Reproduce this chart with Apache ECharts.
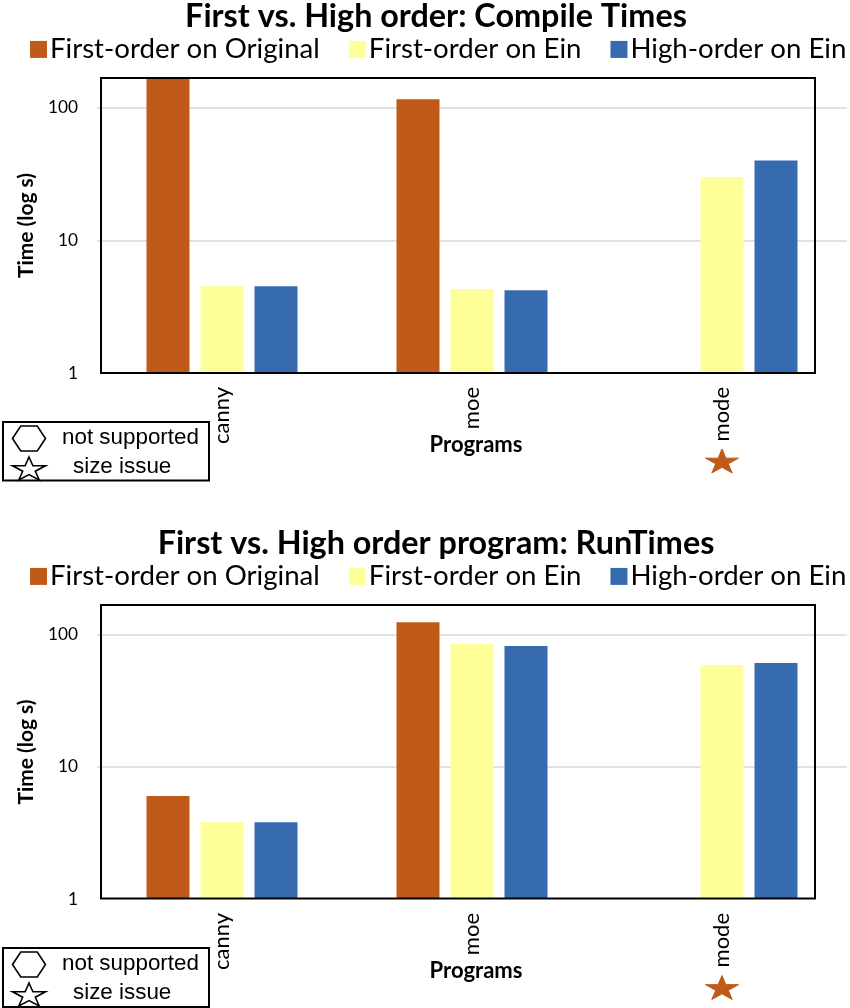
<!DOCTYPE html>
<html><head><meta charset="utf-8">
<script src="https://cdn.jsdelivr.net/npm/echarts@6/dist/echarts.min.js"></script>
<style>html,body{margin:0;padding:0;background:#fff}#c{width:850px;height:1008px}</style>
</head><body><div id="c"></div>
<script>
// ---- data ----
const categories = ['canny', 'moe', 'mode'];
const seriesNames = ['First-order on Original', 'First-order on Ein', 'High-order on Ein'];
const compileOriginal = [167, 116, null];
const compileEinFirst = [4.5, 4.3, 30];
const compileEinHigh = [4.5, 4.2, 40];
const runOriginal = [6.0, 124, null];
const runEinFirst = [3.8, 85, 59];
const runEinHigh = [3.8, 82, 61];
const yTickLabels = [1, 10, 100];
const titles = ['First vs. High order: Compile Times', 'First vs. High order program: RunTimes'];
const sizeIssueCategory = 'mode';

// ---- style ----
const COLORS = ['#C05A18', '#FFFF99', '#376BB0'];
const FAM = 'Lato';
const cv = document.createElement('canvas').getContext('2d');
function fit(text, weight, family, target) {
  cv.font = weight + ' 100px ' + family;
  return 100 * target / cv.measureText(text).width;
}
const titleSize = fit(titles[0], 'bold', FAM, 502);
const legendSize = fit(seriesNames[0], 'normal', FAM, 270);
const catSize = fit('canny', 'normal', FAM, 57);
const ySize = fit('100', 'normal', FAM, 30);
const nameSize = fit('Programs', 'bold', FAM, 93);
const boxSize = fit('not supported', 'normal', 'Liberation Sans', 137);

const grids = [{top: 78, height: 295}, {top: 605, height: 294}];
const data = [[compileOriginal, compileEinFirst, compileEinHigh], [runOriginal, runEinFirst, runEinHigh]];
const YMAX = 167.4;

const option = {
  backgroundColor: '#fff',
  animation: false,
  title: grids.map((g, i) => ({
    text: titles[i], left: 431, textAlign: 'center', top: g.top - 62 - titleSize * 0.62,
    textStyle: {fontFamily: FAM, fontWeight: 'bold', fontSize: titleSize, color: '#000'}
  })),
  legend: grids.map((g, i) => ({
    data: seriesNames, left: 30, right: 0, top: g.top - 26 - legendSize * 0.6, icon: 'rect',
    padding: 0, itemWidth: 17, itemHeight: 17, itemGap: 29, selectedMode: false,
    textStyle: {fontFamily: FAM, fontSize: legendSize, color: '#000', padding: [0, 0, 0, -2]}
  })),
  grid: grids.map(g => ({left: 97, right: 3, top: g.top, height: g.height, show: false})),
  xAxis: grids.map((g, i) => ({
    type: 'category', gridIndex: i, data: categories,
    axisLine: {show: false}, axisTick: {show: false},
    axisLabel: {rotate: 90, margin: 14, color: '#000', fontFamily: FAM, fontSize: catSize},
    name: 'Programs', nameLocation: 'middle', nameGap: 61, nameMoveOverlap: false,
    nameTextStyle: {fontFamily: FAM, fontWeight: 'bold', fontSize: nameSize, color: '#000', padding: [0, 0, 0, 8]}
  })),
  yAxis: grids.map((g, i) => ({
    type: 'log', logBase: 10, gridIndex: i, min: 1, max: YMAX,
    axisLine: {show: false}, axisTick: {show: false},
    splitLine: {show: true, showMinLine: false, showMaxLine: false, lineStyle: {color: '#D9D9D9', width: 1.5}},
    axisLabel: {
      margin: 19, color: '#000', fontFamily: FAM, fontSize: ySize,
      formatter: v => yTickLabels.some(t => Math.abs(t - v) / t < 1e-6) ? String(Math.round(v)) : ''
    },
    name: 'Time (log s)', nameLocation: 'middle', nameGap: 60, nameMoveOverlap: false,
    nameTextStyle: {fontFamily: FAM, fontWeight: 'bold', fontSize: nameSize * 0.95, color: '#000'}
  })),
  series: []
};
data.forEach((set, gi) => {
  set.forEach((vals, si) => {
    option.series.push({
      name: seriesNames[si], type: 'bar', xAxisIndex: gi, yAxisIndex: gi,
      data: vals, barWidth: 43, barGap: '25.6%',
      itemStyle: {color: COLORS[si]}
    });
  });
});

const chart = echarts.init(document.getElementById('c'), null, {renderer: 'canvas'});
chart.setOption(option);

function starPts(cx, cy, w, h) {
  const pts = [];
  for (let k = 0; k < 10; k++) {
    const r = k % 2 === 0 ? 1 : 0.382;
    const a = -Math.PI / 2 + k * Math.PI / 5;
    const px = r * Math.cos(a), py = r * Math.sin(a);
    pts.push([cx + px / 0.951 * (w / 2), cy - h / 2 + (py + 1) / 1.809 * h]);
  }
  return pts;
}
function hexPts(cx, cy, w, h) {
  return [[cx - w / 2, cy], [cx - w / 4, cy - h / 2], [cx + w / 4, cy - h / 2], [cx + w / 2, cy], [cx + w / 4, cy + h / 2], [cx - w / 4, cy + h / 2]];
}
const graphics = [];
const frames = [{y0: 78, y1: 373, box: 422, boxB: 480.5, starY: 461}, {y0: 605, y1: 898.5, box: 948, boxB: 1007, starY: 987.5}];
frames.forEach((f, i) => {
  graphics.push({type: 'rect', z: 100, shape: {x: 101, y: f.y0, width: 714, height: f.y1 - f.y0},
    style: {fill: null, stroke: '#000', lineWidth: 2}});
  graphics.push({type: 'rect', z: 100, shape: {x: 3, y: f.box, width: 206, height: f.boxB - f.box},
    style: {fill: '#fff', stroke: '#000', lineWidth: 2}});
  graphics.push({type: 'polygon', z: 101, shape: {points: hexPts(29, f.box + 16.5, 33, 25)},
    style: {fill: '#fff', stroke: '#000', lineWidth: 1.6}});
  graphics.push({type: 'polygon', z: 101, shape: {points: starPts(29, f.box + 46.5, 33, 23)},
    style: {fill: '#fff', stroke: '#000', lineWidth: 1.6}});
  graphics.push({type: 'text', z: 101, x: 62, y: f.box + 16, style: {text: 'not supported', fill: '#000',
    font: 'normal ' + boxSize.toFixed(1) + 'px "Liberation Sans"', textVerticalAlign: 'middle', verticalAlign: 'middle'}});
  graphics.push({type: 'text', z: 101, x: 73, y: f.box + 45, style: {text: 'size issue', fill: '#000',
    font: 'normal ' + boxSize.toFixed(1) + 'px "Liberation Sans"', textVerticalAlign: 'middle', verticalAlign: 'middle'}});
  const px = chart.convertToPixel({xAxisIndex: i}, sizeIssueCategory);
  graphics.push({type: 'polygon', z: 101, shape: {points: starPts(px, f.starY, 33, 24)},
    style: {fill: COLORS[0], stroke: COLORS[0], lineWidth: 1}});
});
chart.setOption({graphic: graphics});
</script></body></html>
